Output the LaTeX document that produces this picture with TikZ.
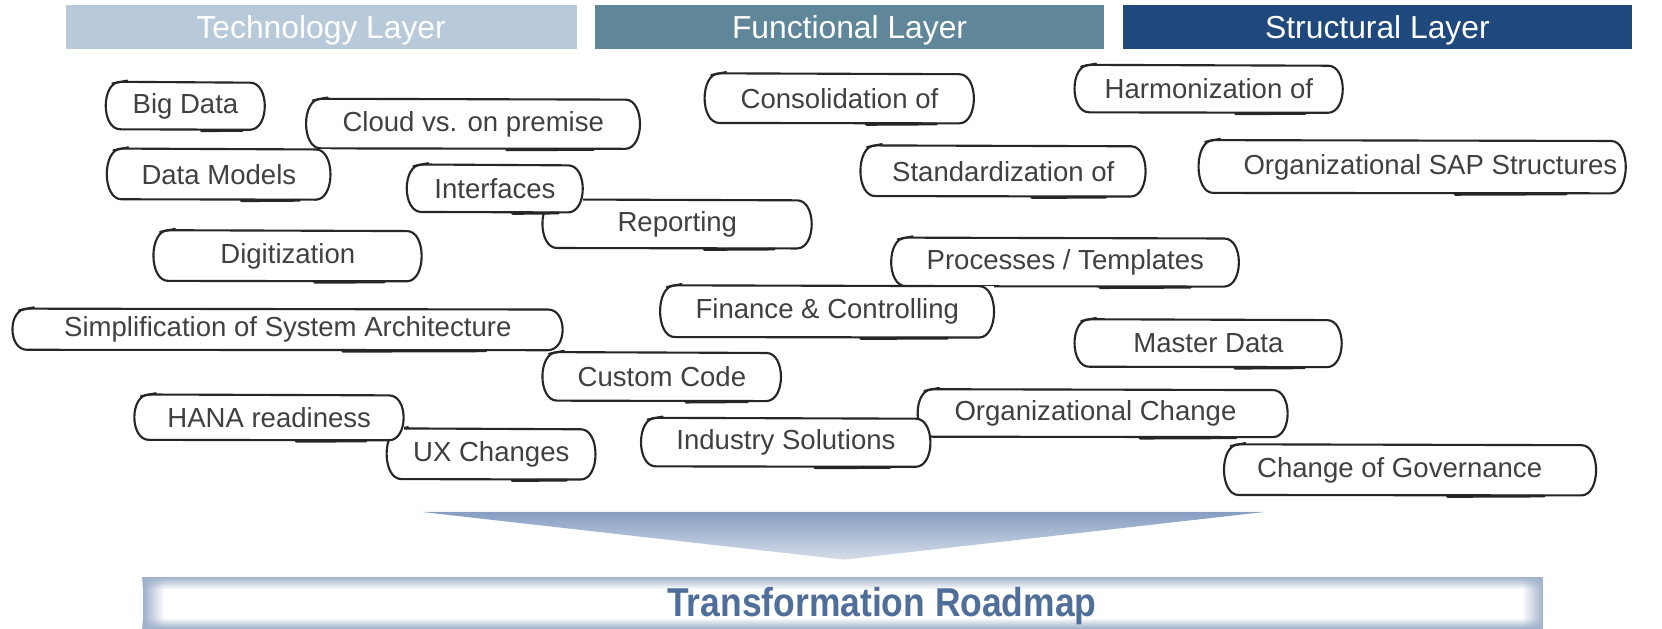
\documentclass[tikz,border=0pt]{standalone}
\usepackage{fontspec}
\setmainfont{Liberation Sans}
\newfontfamily\roadfont[FakeStretch=0.88]{Liberation Sans}
\usetikzlibrary{calc,fadings}
\definecolor{techc}{RGB}{184,201,218}
\definecolor{funcc}{RGB}{96,134,153}
\definecolor{strc}{RGB}{31,73,125}
\definecolor{txtc}{RGB}{64,64,64}
\definecolor{roadc}{RGB}{79,110,153}
\definecolor{edgec}{RGB}{158,176,202}
\definecolor{funnelc}{RGB}{134,157,194}
\definecolor{funnelb}{RGB}{214,222,233}
\tikzset{
 skn/.style={fill=white, inner sep=0pt, outer sep=0pt, text=txtc, font=\fontsize{13}{15}\selectfont},
 skl/.style={draw=black!85, line width=1pt, line cap=round, line join=round},
 hdr/.style={inner sep=0pt, outer sep=0pt, text=white, font=\fontsize{15}{18}\selectfont, minimum height=20.5pt, text depth=0pt},
}
\newcommand\skbox[6]{%
 \node[skn, minimum width=#4*0.5pt, minimum height=#5*0.5pt] (#1) at (#2,#3) {#6};
 \draw[skl] ([xshift=7pt,yshift=0.4pt]#1.north west) -- ([xshift=-7pt]#1.north east)
   .. controls ([xshift=2.2pt]#1.north east) and ([xshift=2.2pt]#1.south east) .. ([xshift=-7pt,yshift=-0.2pt]#1.south east)
   -- ([xshift=7pt]#1.south west)
   .. controls ([xshift=-2.5pt,yshift=-0.3pt]#1.south west) and ([xshift=-2.5pt,yshift=0.6pt]#1.north west) .. ([xshift=7pt,yshift=0.4pt]#1.north west);
 \draw[skl] ([xshift=3pt,yshift=-0.4pt]#1.north west) -- ([xshift=10pt,yshift=1pt]#1.north west);
 \draw[skl, line width=1.3pt] ($(#1.south west)!0.6!(#1.south east)+(0,1.4)$) -- ($(#1.south west)!0.86!(#1.south east)+(0,1.0)$);
}
\begin{document}
\begin{tikzpicture}[x=0.5pt,y=-0.5pt]
\useasboundingbox (0,0) rectangle (1568,593);
% headers
\node[hdr, fill=techc, minimum width=241pt] (tech) at (303,25.5) {Technology Layer};
\node[hdr, fill=funcc, minimum width=240.5pt] (func) at (801.5,25.5) {Functional Layer};
\node[hdr, fill=strc, minimum width=240.5pt] (struc) at (1299.5,25.5) {Structural Layer};
% technology boxes
\skbox{bigdata}{175}{100}{150}{44}{Big Data}
\skbox{cloud}{446.5}{117}{315}{46}{Cloud vs. on premise}
\skbox{datamodels}{206.5}{164.5}{211}{47}{Data Models}
\skbox{reporting}{639}{211.5}{254}{45}{Reporting}
\skbox{interfaces}{467}{178}{166}{44}{Interfaces}
\skbox{digitization}{271.5}{241.5}{253}{47}{Digitization}
\skbox{customcode}{624.5}{355.5}{225}{45}{Custom Code}
\skbox{simplification}{271.5}{311}{519}{38}{Simplification of System Architecture}
\skbox{ux}{463.5}{428.5}{197}{47}{UX Changes}
\skbox{hana}{254}{394}{254}{42}{HANA readiness}
% functional boxes
\skbox{consolidation}{792}{93}{254}{46}{Consolidation of}
\skbox{standardization}{946.5}{161.5}{269}{47}{Standardization of}
\skbox{processes}{1005}{247.5}{328}{45}{Processes / Templates}
\skbox{finance}{780.5}{294}{315}{48}{Finance \& Controlling}
\skbox{orgchange}{1040.5}{390}{349}{44}{Organizational Change\hspace*{7pt}}
\skbox{industry}{741.5}{417.5}{273}{45}{Industry Solutions}
% structural boxes
\skbox{harmonization}{1140.5}{84}{253}{44}{Harmonization of}
\skbox{orgsap}{1332.5}{157.5}{403}{49}{\hspace*{17pt}Organizational SAP Structures}
\skbox{masterdata}{1140}{324}{252}{44}{Master Data}
\skbox{governance}{1330.5}{443.5}{351}{47}{Change of Governance\hspace*{10pt}}
% funnel arrow
\shade[top color=funnelc, middle color=white, bottom color=funnelb] (398,483) -- (1193,483) -- (796,528) -- cycle;
% roadmap bar
\node[inner sep=0pt, outer sep=0pt, anchor=north west, fill=white, minimum width=660.5pt, minimum height=24.5pt] (roadmap) at (135,544) {};
\fill[edgec, path fading=south] (roadmap.north west) rectangle ([yshift=-6pt]roadmap.north east);
\fill[edgec, path fading=north] ([yshift=5pt]roadmap.south west) rectangle (roadmap.south east);
\fill[edgec, path fading=east] (roadmap.north west) rectangle ([xshift=10pt]roadmap.south west);
\fill[edgec, path fading=west] ([xshift=-10pt]roadmap.north east) rectangle (roadmap.south east);
\node[text=roadc, inner sep=0pt, font=\roadfont\bfseries\fontsize{19}{22}\selectfont] (roadtxt) at (832,572) {Transformation Roadmap};
\end{tikzpicture}
\end{document}
